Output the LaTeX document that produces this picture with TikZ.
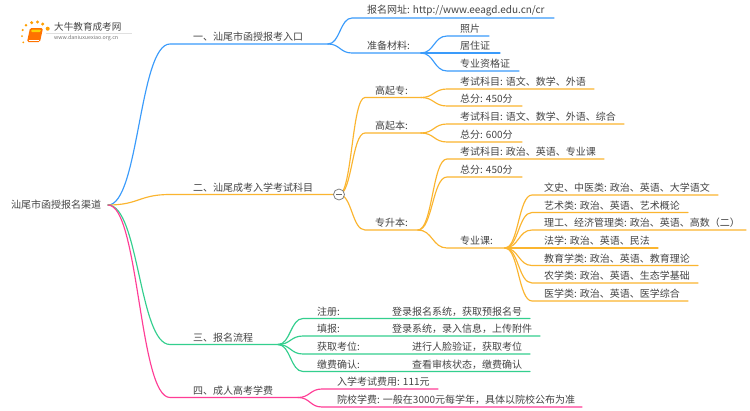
\documentclass[tikz,border=0pt]{standalone}
\usepackage{fontspec}
\setmainfont{Noto Sans CJK SC}
\definecolor{cblue}{HTML}{3A9BFB}
\definecolor{corange}{HTML}{FBB52F}
\definecolor{cgreen}{HTML}{33CF8E}
\definecolor{cpink}{HTML}{FF3D96}
\definecolor{ctext}{HTML}{444444}
\usetikzlibrary{calc}
\tikzset{
  lbl/.style={anchor=west,inner sep=0pt,text=ctext,font=\fontsize{10}{12}\selectfont},
  conn/.style={line width=1.15pt,line cap=round,line join=round},
}
% name, parent end, colour, line start x, line end x, y, text x, text
\newcommand{\mapitem}[8]{%
  \coordinate (#1-s) at (#4,#6);
  \coordinate (#1-e) at (#5,#6);
  \node[lbl] (#1) at (#7,#6-7) {#8};
  \coordinate (#1-m) at ($(#2)!0.5!(#1-s)$);
  \draw[conn,#3] (#2) .. controls (#1-m |- #2) and (#1-m |- #1-s) .. (#1-s) -- (#1-e);
}
\begin{document}
\begin{tikzpicture}[x=1pt,y=-1pt]
\useasboundingbox (0,0) rectangle (750,410);
\fill[white] (0,0) rectangle (750,410);
% logo
\foreach \i/\px/\py/\r in {a/23.3/42.3/1,b/22/36/1,c/22.7/30/1.2,d/26/25.3/1.4,e/31.7/22.7/1.7,f/37.5/22/1.7,g/42.7/24/1.7,h/47.7/28.7/2}
  \fill[fill=orange!75!yellow] (\px,\py) circle (\r);
\fill[rounded corners=1.5pt,fill=orange!90!red] (30,28) -- (43,28) -- (40,42) -- (27,42) -- cycle;
\fill[rounded corners=1pt,fill=yellow!70!orange] (31.5,29.5) -- (41,29.5) -- (40.5,32) -- (31,32) -- cycle;
\draw[white,line width=.7pt] (28.5,40) -- (39,40);
\node[inner sep=0pt,anchor=west,text=ctext,font=\fontsize{9.6}{11}\selectfont] (logotitle) at (54,27) {大牛教育成考网};
\draw[black!12,line width=.5pt] (46,33) -- (132,33);
\node[inner sep=0pt,anchor=west,text=black!55,font=\fontsize{5.3}{6}\selectfont] (logosub) at (54,38.5) {www.daniuxuexiao.org.cn};
% root
\node[lbl] (root) at (11,205) {汕尾市函授报名渠道};
\coordinate (r) at (108,205);
% branch 1
\mapitem{b1}{r}{cblue}{170}{328}{44}{193}{一、汕尾市函授报考入口}
\mapitem{b1a}{b1-e}{cblue}{352}{554}{18}{367}{报名网址: http://www.eeagd.edu.cn/cr}
\mapitem{b1b}{b1-e}{cblue}{352}{421}{53}{367}{准备材料:}
\mapitem{b1b1}{b1b-e}{cblue}{447}{489}{36}{460}{照片}
\mapitem{b1b2}{b1b-e}{cblue}{447}{500}{53}{460}{居住证}
\mapitem{b1b3}{b1b-e}{cblue}{447}{519}{71}{460}{专业资格证}
% branch 2
\mapitem{b2}{r}{corange}{170}{333}{194.5}{193}{二、汕尾成考入学考试科目}
\coordinate (hub) at (339,194.5);
\mapitem{b2a}{hub}{corange}{365}{421}{97.5}{375}{高起专:}
\mapitem{b2a1}{b2a-e}{corange}{447}{594}{89}{460}{考试科目: 语文、数学、外语}
\mapitem{b2a2}{b2a-e}{corange}{447}{522}{106}{460}{总分: 450分}
\mapitem{b2b}{hub}{corange}{365}{421}{133}{375}{高起本:}
\mapitem{b2b1}{b2b-e}{corange}{447}{624}{124}{460}{考试科目: 语文、数学、外语、综合}
\mapitem{b2b2}{b2b-e}{corange}{447}{522}{142}{460}{总分: 600分}
\mapitem{b2c}{hub}{corange}{365}{418}{230}{375}{专升本:}
\mapitem{b2c1}{b2c-e}{corange}{447}{604}{159}{460}{考试科目: 政治、英语、专业课}
\mapitem{b2c2}{b2c-e}{corange}{447}{522}{177}{460}{总分: 450分}
\mapitem{b2c3}{b2c-e}{corange}{447}{505}{248}{460}{专业课:}
\mapitem{k1}{b2c3-e}{corange}{532}{718}{195}{544}{文史、中医类: 政治、英语、大学语文}
\mapitem{k2}{b2c3-e}{corange}{532}{688}{212.5}{544}{艺术类: 政治、英语、艺术概论}
\mapitem{k3}{b2c3-e}{corange}{532}{746}{230}{544}{理工、经济管理类: 政治、英语、高数（二）}
\mapitem{k4}{b2c3-e}{corange}{532}{658}{248}{544}{法学: 政治、英语、民法}
\mapitem{k5}{b2c3-e}{corange}{532}{698}{265.5}{544}{教育学类: 政治、英语、教育理论}
\mapitem{k6}{b2c3-e}{corange}{532}{698}{283}{544}{农学类: 政治、英语、生态学基础}
\mapitem{k7}{b2c3-e}{corange}{532}{688}{301}{544}{医学类: 政治、英语、医学综合}
\node[circle,draw=black!50,fill=white,line width=.8pt,minimum size=11pt,inner sep=0pt] (hubc) at (hub) {};
\draw[black!60,line width=.8pt] ($(hubc.center)+(-3,0)$) -- ($(hubc.center)+(3,0)$);
% branch 3
\mapitem{b3}{r}{cgreen}{170}{278}{344.5}{193}{三、报名流程}
\mapitem{b3a}{b3-e}{cgreen}{303}{530}{318.5}{317}{注册:}
\mapitem{b3b}{b3-e}{cgreen}{303}{540}{336}{317}{填报:}
\mapitem{b3c}{b3-e}{cgreen}{303}{530}{354}{317}{获取考位:}
\mapitem{b3d}{b3-e}{cgreen}{303}{530}{371.5}{317}{缴费确认:}
\node[lbl] (v1) at (392,311.5) {登录报名系统，获取预报名号};
\node[lbl] (v2) at (392,329) {登录系统，录入信息，上传附件};
\node[lbl] (v3) at (412,347) {进行人脸验证，获取考位};
\node[lbl] (v4) at (412,364.5) {查看审核状态，缴费确认};
% branch 4
\mapitem{b4}{r}{cpink}{170}{298}{397.5}{193}{四、成人高考学费}
\mapitem{b4a}{b4-e}{cpink}{322}{438}{389}{337}{入学考试费用: 111元}
\mapitem{b4b}{b4-e}{cpink}{322}{582}{407}{337}{院校学费: 一般在3000元每学年，具体以院校公布为准}
\end{tikzpicture}
\end{document}
